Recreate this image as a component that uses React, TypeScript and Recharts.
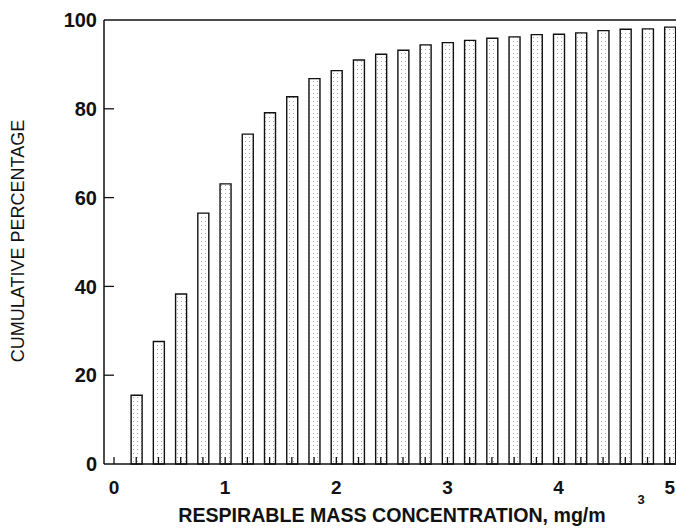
import { BarChart, Bar, XAxis, YAxis, ReferenceLine } from 'recharts';

// respirable mass concentration, mg/m3 (bar centres)
const concentration = [
  0.2, 0.4, 0.6, 0.8, 1.0, 1.2, 1.4, 1.6, 1.8, 2.0, 2.2, 2.4, 2.6,
  2.8, 3.0, 3.2, 3.4, 3.6, 3.8, 4.0, 4.2, 4.4, 4.6, 4.8, 5.0,
];
// cumulative percentage
const cumulative = [
  15.5, 27.6, 38.3, 56.5, 63.1, 74.3, 79.1, 82.7, 86.8, 88.6, 91.0, 92.3, 93.2,
  94.4, 94.9, 95.4, 95.9, 96.2, 96.7, 96.8, 97.1, 97.6, 97.9, 98.0, 98.4,
];
const xTicks = [
  0, 0.2, 0.4, 0.6, 0.8, 1, 1.2, 1.4, 1.6, 1.8, 2, 2.2, 2.4, 2.6, 2.8,
  3, 3.2, 3.4, 3.6, 3.8, 4, 4.2, 4.4, 4.6, 4.8, 5,
];
const yTicks = [0, 20, 40, 60, 80, 100];

const data = concentration.map((c, i) => ({ x: c, pct: cumulative[i] }));

const FONT = '"Liberation Sans", Arial, Helvetica, sans-serif';

const XTick = (props: any) => {
  const { x, y, payload } = props;
  const v = payload.value as number;
  const isInt = Math.abs(v - Math.round(v)) < 1e-6;
  return (
    <g>
      <line x1={x} y1={y} x2={x} y2={y - 7} stroke="#111" strokeWidth={1.3} />
      {isInt && (
        <text x={x} y={y + 30} textAnchor="middle" fontFamily={FONT} fontWeight="bold" fontSize={19} fill="#111">
          {Math.round(v)}
        </text>
      )}
    </g>
  );
};

const YTick = (props: any) => {
  const { x, y, payload } = props;
  const v = payload.value as number;
  return (
    <g>
      {v > 0 && v < 100 && <line x1={x} y1={y} x2={x + 10} y2={y} stroke="#111" strokeWidth={1.3} />}
      <text x={x - 7} y={y} dy="0.36em" textAnchor="end" fontFamily={FONT} fontWeight="bold" fontSize={20} fill="#111">
        {v}
      </text>
    </g>
  );
};

export default function App() {
  return (
    <div style={{ position: 'absolute', left: 0, top: 0, width: 676, height: 531, overflow: 'hidden', background: '#fff' }}>
      <BarChart width={700} height={531} data={data} margin={{ top: 20, right: 8, left: 0, bottom: 0 }}>
        <defs>
          <pattern id="stipple" width="4" height="4" patternUnits="userSpaceOnUse">
            <rect x="1" y="1" width="1" height="1" fill="#a8a8a8" />
          </pattern>
        </defs>
        <XAxis
          dataKey="x"
          type="number"
          domain={[-0.09, 5.2]}
          allowDataOverflow
          ticks={xTicks}
          interval={0}
          height={67}
          tickSize={0}
          tickMargin={0}
          tickLine={false}
          axisLine={{ stroke: '#111', strokeWidth: 1.5 }}
          tick={<XTick />}
        />
        <YAxis
          domain={[0, 100]}
          ticks={yTicks}
          width={104}
          tickSize={0}
          tickMargin={0}
          tickLine={false}
          axisLine={{ stroke: '#111', strokeWidth: 1.5 }}
          tick={<YTick />}
        />
        <ReferenceLine y={100} stroke="#111" strokeWidth={1.5} />
        <Bar dataKey="pct" barSize={11} fill="url(#stipple)" stroke="#111" strokeWidth={1.4} isAnimationActive={false} />
        <text
          x={18}
          y={241}
          transform="rotate(-90 18 241)"
          textAnchor="middle"
          dominantBaseline="central"
          fontFamily={FONT}
          fontSize={18}
          fill="#111"
        >
          CUMULATIVE PERCENTAGE
        </text>
        <text x={392} y={522} textAnchor="middle" fontFamily={FONT} fontWeight="bold" fontSize={19.6} fill="#111">
          RESPIRABLE MASS CONCENTRATION, mg/m
        </text>
        <text x={641} y={504} textAnchor="middle" fontFamily={FONT} fontWeight="bold" fontSize={13} fill="#111">
          3
        </text>
      </BarChart>
    </div>
  );
}
